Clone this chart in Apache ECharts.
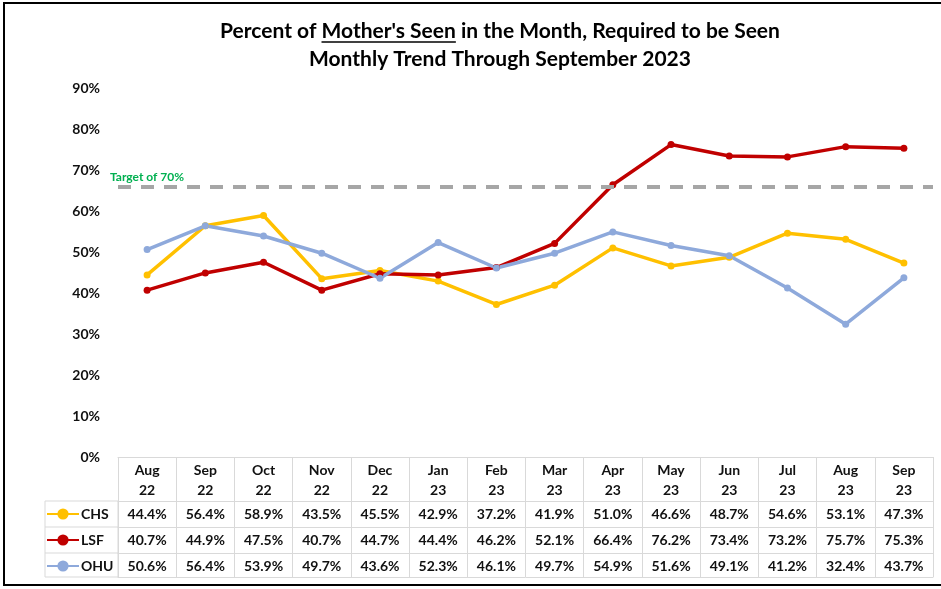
<!DOCTYPE html>
<html>
<head>
<meta charset="utf-8">
<script src="https://cdn.jsdelivr.net/npm/echarts@6/dist/echarts.min.js"></script>
<style>
  html, body { margin: 0; padding: 0; background: #fff; }
  #chart { width: 941px; height: 589px; }
</style>
</head>
<body>
<div id="chart"></div>
<script>
// 数据
var months = ['Aug', 'Sep', 'Oct', 'Nov', 'Dec', 'Jan', 'Feb', 'Mar', 'Apr', 'May', 'Jun', 'Jul', 'Aug', 'Sep'];
var years = ['22', '22', '22', '22', '22', '23', '23', '23', '23', '23', '23', '23', '23', '23'];
var chs = [44.4, 56.4, 58.9, 43.5, 45.5, 42.9, 37.2, 41.9, 51.0, 46.6, 48.7, 54.6, 53.1, 47.3];
var lsf = [40.7, 44.9, 47.5, 40.7, 44.7, 44.4, 46.2, 52.1, 66.4, 76.2, 73.4, 73.2, 75.7, 75.3];
var ohu = [50.6, 56.4, 53.9, 49.7, 43.6, 52.3, 46.1, 49.7, 54.9, 51.6, 49.1, 41.2, 32.4, 43.7];
var targetValue = 66;
var targetLabel = 'Target of 70%';

var categories = months.map(function (m, i) { return m + '\n' + years[i]; });

var FONT = 'Lato, "Open Sans", sans-serif';
var titleLine1 = ['Percent of ', "Mother's Seen ", 'in the Month, Required to be Seen'];
var titleLine2 = 'Monthly Trend Through September 2023';
var titleFont = 'bold 21px ' + FONT;
var borderGrey = '#D9D9D9';

// 下划线位置用 canvas 测量
var ctx = document.createElement('canvas').getContext('2d');
ctx.font = titleFont;
var fullW = ctx.measureText(titleLine1.join('')).width;
var preW = ctx.measureText(titleLine1[0]).width;
var uW = ctx.measureText(titleLine1[1].trim()).width;
var titleCx = 500;
var uX = titleCx - fullW / 2 + preW;

// 图表区域
var gLeft = 118, gRight = 8, gTop = 88, gBottom = 132;
var plotBottom = 589 - gBottom;

function tableAxis(offset, values) {
  return {
    type: 'category',
    data: categories,
    position: 'bottom',
    offset: offset,
    boundaryGap: true,
    axisLine: { show: true, lineStyle: { color: borderGrey, width: 1 } },
    axisTick: { show: false },
    axisLabel: {
      show: !!values,
      interval: 0,
      margin: 5,
      lineHeight: 16,
      fontFamily: FONT,
      fontSize: 14,
      fontWeight: 'bold',
      color: '#111',
      formatter: function (v, i) { return values[i].toFixed(1) + '%'; }
    }
  };
}

function lineSeries(name, color, data) {
  return {
    name: name,
    type: 'line',
    data: data,
    symbol: 'circle',
    symbolSize: 7,
    color: color,
    lineStyle: { width: 3.5, color: color },
    itemStyle: { color: color }
  };
}

var chsSeries = lineSeries('CHS', '#FFC000', chs);
var lsfSeries = lineSeries('LSF', '#C00000', lsf);
var ohuSeries = lineSeries('OHU', '#8EA9DB', ohu);
ohuSeries.markLine = {
  silent: true,
  symbol: 'none',
  lineStyle: { color: '#A6A6A6', width: 4, type: [13, 10] },
  label: {
    show: true,
    position: 'insideStartTop',
    distance: [-8, 3],
    formatter: targetLabel,
    color: '#00B050',
    fontFamily: FONT,
    fontSize: 12,
    fontWeight: 'bold'
  },
  data: [{ yAxis: targetValue }]
};

var myChart = echarts.init(document.getElementById('chart'));
myChart.setOption({
  animation: false,
  backgroundColor: '#fff',
  grid: { left: gLeft, right: gRight, top: gTop, bottom: gBottom },
  legend: {
    data: ['CHS', 'LSF', 'OHU'],
    orient: 'vertical',
    left: 46,
    top: 507,
    padding: 0,
    itemWidth: 32,
    itemHeight: 14,
    itemGap: 12,
    textStyle: { fontFamily: FONT, fontSize: 14, fontWeight: 'bold', color: '#111', padding: [0, 0, 0, -3] }
  },
  xAxis: [
    {
      type: 'category',
      data: categories,
      boundaryGap: true,
      axisLine: { show: true, lineStyle: { color: borderGrey, width: 1 } },
      axisTick: { show: true, interval: 0, length: 120, lineStyle: { color: borderGrey, width: 1 } },
      axisLabel: {
        interval: 0,
        margin: 3,
        lineHeight: 20,
        fontFamily: FONT,
        fontSize: 14,
        fontWeight: 'bold',
        color: '#111'
      }
    },
    tableAxis(44, chs),
    tableAxis(70, lsf),
    tableAxis(96, ohu),
    tableAxis(120, null)
  ],
  yAxis: {
    type: 'value',
    min: 0,
    max: 90,
    interval: 10,
    axisLine: { show: false },
    axisTick: { show: false },
    splitLine: { show: false },
    axisLabel: {
      margin: 18,
      fontFamily: FONT,
      fontSize: 14,
      fontWeight: 'bold',
      color: '#111',
      formatter: '{value}%'
    }
  },
  series: [chsSeries, lsfSeries, ohuSeries],
  graphic: [
    // 外框
    { type: 'rect', shape: { x: 4, y: 3, width: 960, height: 582 }, style: { fill: 'none', stroke: '#000', lineWidth: 2 }, silent: true },
    // 标题
    { type: 'text', x: titleCx, y: 31, style: { text: titleLine1.join(''), font: titleFont, fill: '#000', align: 'center', verticalAlign: 'middle' } },
    { type: 'text', x: titleCx, y: 59, style: { text: titleLine2, font: titleFont, fill: '#000', align: 'center', verticalAlign: 'middle' } },
    { type: 'line', shape: { x1: uX, y1: 42, x2: uX + uW, y2: 42 }, style: { stroke: '#000', lineWidth: 1.5 } },
    // 图例列边框
    { type: 'rect', shape: { x: 45, y: plotBottom + 44, width: gLeft - 45, height: 76 }, style: { fill: 'none', stroke: borderGrey, lineWidth: 1 } },
    { type: 'line', shape: { x1: 45, y1: plotBottom + 70, x2: gLeft, y2: plotBottom + 70 }, style: { stroke: borderGrey, lineWidth: 1 } },
    { type: 'line', shape: { x1: 45, y1: plotBottom + 96, x2: gLeft, y2: plotBottom + 96 }, style: { stroke: borderGrey, lineWidth: 1 } }
  ]
});
</script>
</body>
</html>
